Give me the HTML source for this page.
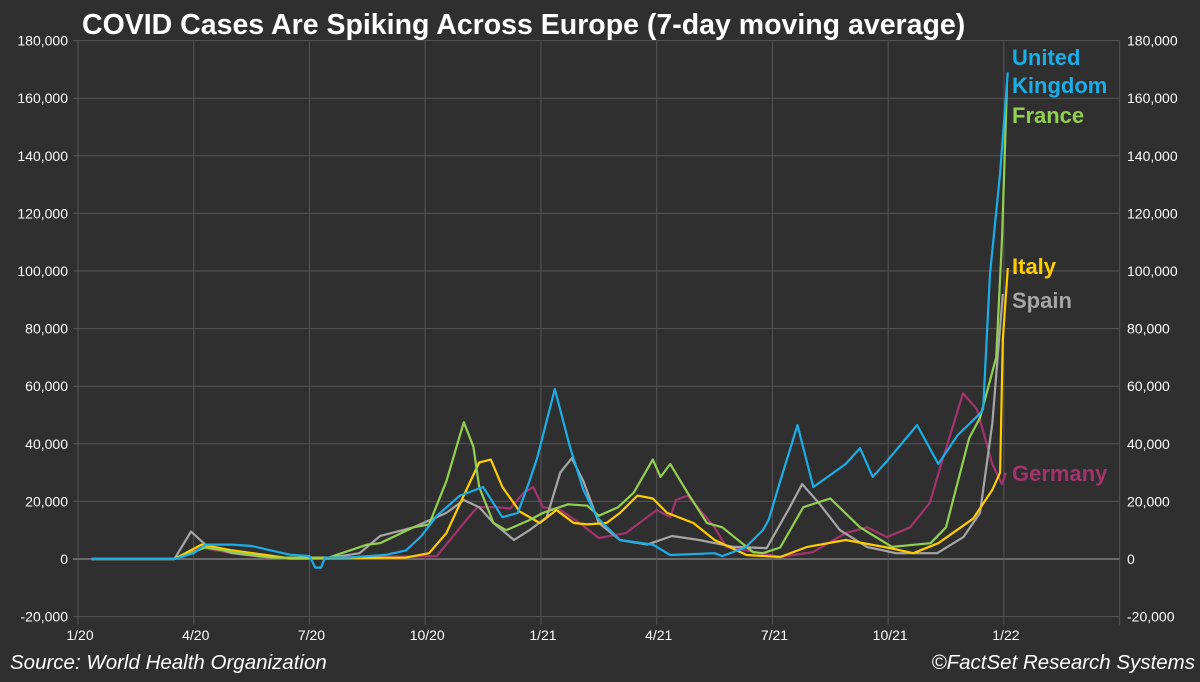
<!DOCTYPE html>
<html><head><meta charset="utf-8">
<style>
html,body{margin:0;padding:0;background:#2f2f2f;}
svg{display:block;font-family:"Liberation Sans",Arial,sans-serif;}
</style></head>
<body>
<svg id="chart" width="1200" height="682" viewBox="0 0 1200 682" xmlns="http://www.w3.org/2000/svg">
<rect width="1200" height="682" fill="#2f2f2f"/>
<text x="82" y="34" fill="#ffffff" font-size="28.5" font-weight="bold">COVID Cases Are Spiking Across Europe (7-day moving average)</text>
<g id="grid"></g>
<g id="lines"></g>
<g id="labels"></g>
<text x="10" y="669" fill="#ffffff" font-size="20.5" font-style="italic">Source: World Health Organization</text>
<text x="1195" y="669" fill="#ffffff" font-size="20.5" font-style="italic" text-anchor="end">©FactSet Research Systems</text>
</svg>
<script>
const yTicks=[-20000,0,20000,40000,60000,80000,100000,120000,140000,160000,180000];
const xTickLabels=["1/20","4/20","7/20","10/20","1/21","4/21","7/21","10/21","1/22"];
const xTickMonths=[0,3,6,9,12,15,18,21,24];
const seriesNames=["Germany","Spain","Italy","France","United Kingdom"];
const seriesColors=["#a3336d","#a6a6a6","#ffcc00","#92d050","#1aaee8"];
// months since 1 Jan 2020, values in thousands
const deMonths=[0.35,2.5,3.2,4,5,9.3,10,10.35,10.85,11.2,11.55,11.8,12.05,12.5,13,13.5,14.2,15,15.35,15.5,15.8,16.5,16.8,17.33,18.2,19.05,19.9,20.45,20.97,21.57,22.08,22.42,22.94,23.3,23.7,23.95,24.05];
const deValues=[0,0,4,2,0.3,1,12.5,18,18,17.5,23,25,18,17,12.5,7.3,9,17,14.5,20.5,22,11,4.2,3,0.7,2.4,9,11,7.6,11,19.5,35,57.5,52,33,26,30];
const esMonths=[0.35,2.5,2.93,3.3,4,5,6.5,7.3,7.83,8.7,9.55,10,10.4,10.77,11.3,11.7,12.15,12.5,12.8,13.1,13.5,14.05,14.75,15.4,16.1,17,17.85,18.45,18.77,19.2,19.75,20.45,21.2,22.27,22.95,23.38,23.7,23.97];
const esValues=[0,0,9.5,5,2,0.5,0.3,2,8,11,16,20.5,18,12.5,6.6,10,14.5,30,35,27,12.5,6.6,5,8,6.6,4.2,3.8,18,26,19.5,10,4.2,2,2,7.6,16,47,92];
const itMonths=[0.35,2.5,3.2,4,5.5,8.5,9.1,9.55,10.1,10.4,10.7,11,11.45,11.97,12.4,12.85,13.2,13.7,14.05,14.5,14.9,15.27,15.95,16.5,17.33,18.2,18.9,19.9,20.97,21.65,22.3,23.2,23.7,23.9,23.97,24.1];
const itValues=[0,0,5,3,0.2,0.5,2,9,25,33.5,34.5,25,16.5,12.5,17,12.5,12,12.5,16,22,21,16,12.5,6.6,1.4,0.7,4.2,6.6,4,2,5.5,14,24,30,76,101];
const frMonths=[0.35,2.5,3.3,4,5,6.5,7.5,7.83,8.7,9.1,9.55,10,10.25,10.4,10.77,11.1,11.7,12.05,12.7,13.2,13.5,14,14.4,14.9,15.1,15.35,15.8,16.3,16.7,17.5,17.75,18.2,18.8,19.5,20.27,21.1,22.1,22.5,23.1,23.38,23.8,23.95,24.08];
const frValues=[0,0,4,2.5,0.5,0.5,5,5.5,11,12,27,47.5,39,25,12.5,10,13.5,16,19,18.5,15,18,23,34.5,28.5,33,23,12.5,11,2.4,2,4,18,21,11,4.2,5.5,11,42,49,70,111,165];
const ukMonths=[0.35,2.5,3,3.3,4,4.5,5,5.5,6,6.15,6.3,6.4,7,8,8.5,8.9,9.3,9.9,10.5,11,11.4,11.7,11.9,12.36,12.75,13.1,13.45,14.05,14.9,15.35,16.5,16.7,17.3,17.75,17.9,18.2,18.65,19.06,19.9,20.27,20.6,20.97,21.75,22.3,22.8,23.38,23.46,23.64,23.9,24.1];
const ukValues=[0,0,2,5,5,4.5,3,1.5,1,-3,-3,0.5,0.5,1.5,3,8,15,22,25,14.5,16,27,35,59,39,24,14.5,6.6,5,1.4,2,1,4,10,13.5,27,46.5,25,33,38.5,28.5,34,46.5,33,43,50.5,52,99,134,169];
const seriesMonths=[deMonths,esMonths,itMonths,frMonths,ukMonths];
const seriesValues=[deValues,esValues,itValues,frValues,ukValues];
const labelTexts=[["Germany"],["Spain"],["Italy"],["France"],["United","Kingdom"]];
const labelYs=[[481],[308],[274],[123],[65,93]];

const NS="http://www.w3.org/2000/svg";
const X0=78, MPX=38.58, Y0=559, YPX=0.00288;
const xs=m=>X0+m*MPX;
const ys=v=>Y0-v*YPX;
const PL=73, PR=1120;
function mk(tag,attrs,parent){const e=document.createElementNS(NS,tag);for(const k in attrs)e.setAttribute(k,attrs[k]);parent.appendChild(e);return e;}
const grid=document.getElementById('grid');
yTicks.forEach(t=>{
  const y=ys(t);
  const l=mk('line',{x1:PL,x2:PR,y1:y,y2:y,stroke:t===0?'#6a6a6a':'#555555','stroke-width':t===0?2:1},grid);
  
  
  const fmt=t.toLocaleString('en-US');
  const a=mk('text',{x:68,y:y+5,fill:'#ffffff','font-size':14,'text-anchor':'end'},grid);a.textContent=fmt;
  
  
  const b=mk('text',{x:1127,y:y+5,fill:'#ffffff','font-size':14},grid);b.textContent=fmt;
  
  
});
xTickMonths.concat([27]).forEach((m,i)=>{
  const x=xs(m);
  const l=mk('line',{x1:x,x2:x,y1:ys(180000),y2:ys(-20000)+8,stroke:'#555555','stroke-width':1},grid);
  
  
  if(i<xTickLabels.length){
    const t=mk('text',{x:x+2,y:640,fill:'#ffffff','font-size':14,'text-anchor':'middle'},grid);t.textContent=xTickLabels[i];
    
    
  }
});
const lines=document.getElementById('lines');
seriesNames.forEach((n,i)=>{
  const pts=seriesMonths[i].map((m,j)=>xs(m).toFixed(1)+','+ys(seriesValues[i][j]*1000).toFixed(1)).join(' ');
  const p=mk('polyline',{points:pts,fill:'none',stroke:seriesColors[i],'stroke-width':2.2,'stroke-linejoin':'round'},lines);
  
  
});
const labels=document.getElementById('labels');
seriesNames.forEach((n,i)=>{
  labelTexts[i].forEach((s,k)=>{
    const t=mk('text',{x:1012,y:labelYs[i][k],fill:seriesColors[i],'font-size':22,'font-weight':'bold'},labels);
    t.textContent=s;
    
    
  });
});
</script>
</body></html>
